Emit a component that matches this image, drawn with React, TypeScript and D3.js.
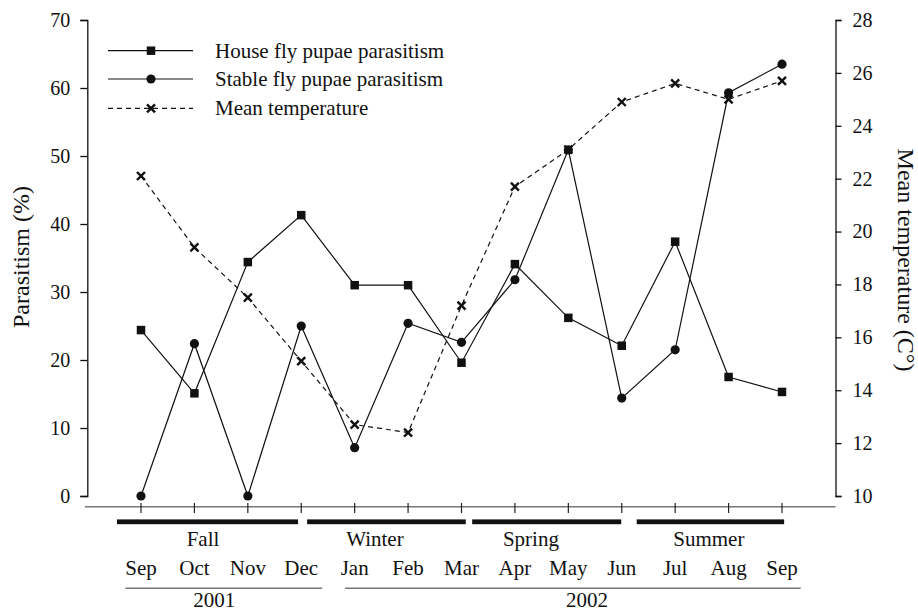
import React, { useEffect, useRef } from "react";
import * as d3 from "d3";

const months = ["Sep", "Oct", "Nov", "Dec", "Jan", "Feb", "Mar", "Apr", "May", "Jun", "Jul", "Aug", "Sep"];
const houseFly = [24.4, 15.1, 34.4, 41.3, 31.0, 31.0, 19.6, 34.1, 26.2, 22.1, 37.4, 17.5, 15.3];
const stableFly = [0, 22.4, 0, 25.0, 7.1, 25.4, 22.6, 31.8, 50.9, 14.4, 21.5, 59.3, 63.5];
const meanTemp = [22.1, 19.4, 17.5, 15.1, 12.7, 12.4, 17.2, 21.7, 23.1, 24.9, 25.6, 25.0, 25.7];
const leftTicks = [0, 10, 20, 30, 40, 50, 60, 70];
const rightTicks = [10, 12, 14, 16, 18, 20, 22, 24, 26, 28];
// season bars: start / end / label position in month-index units
const seasonNames = ["Fall", "Winter", "Spring", "Summer"];
const seasonStart = [-0.45, 3.11, 6.2, 9.28];
const seasonEnd = [2.94, 6.08, 8.99, 12.04];
const seasonLabelAt = [1.16, 4.38, 7.3, 10.63];
const yearNames = ["2001", "2002"];
const yearStart = [-0.29, 3.82];
const yearEnd = [3.39, 12.35];
const yearLabelAt = [1.37, 8.35];
const legendNames = ["House fly pupae parasitism", "Stable fly pupae parasitism", "Mean temperature"];

const FONT = "'Liberation Serif', 'Times New Roman', serif";
const W = 918;
const H = 613;
const LEFT_X = 87.3;
const RIGHT_X = 835.5;
const AXIS_Y = 506.7;

export default function App() {
  const leftRef = useRef<SVGGElement>(null);
  const rightRef = useRef<SVGGElement>(null);

  const x = d3.scalePoint<number>().domain(d3.range(months.length)).range([141, 782]);
  const step = x.step();
  const xf = (v: number) => (x(0) as number) + v * step;
  const yL = d3.scaleLinear().domain([0, 70]).range([496, 20]);
  const yR = d3.scaleLinear().domain([10, 28]).range([496, 20]);

  useEffect(() => {
    if (leftRef.current) {
      const g = d3.select(leftRef.current);
      g.call(d3.axisLeft(yL).tickValues(leftTicks).tickSize(7).tickPadding(10).tickFormat(d3.format("d")) as any);
      g.attr("font-family", FONT).attr("font-size", 20);
      g.selectAll("path,line").attr("stroke", "#111").attr("stroke-width", 1.3);
      g.selectAll("text").attr("fill", "#111");
    }
    if (rightRef.current) {
      const g = d3.select(rightRef.current);
      g.call(d3.axisRight(yR).tickValues(rightTicks).tickSize(6).tickPadding(11).tickFormat(d3.format("d")) as any);
      g.attr("font-family", FONT).attr("font-size", 20);
      g.selectAll("path,line").attr("stroke", "#111").attr("stroke-width", 1.3);
      g.selectAll("text").attr("fill", "#111");
    }
  }, []);

  const lineL = d3
    .line<number>()
    .x((_, i) => x(i) as number)
    .y((d) => yL(d));
  const lineR = d3
    .line<number>()
    .x((_, i) => x(i) as number)
    .y((d) => yR(d));

  const sq = 8.5;
  const cr = 4.6;
  const xs = 4;

  const cross = (cx: number, cy: number, key: any) => (
    <g key={key} stroke="#111" strokeWidth={2.4}>
      <line x1={cx - xs} y1={cy - xs} x2={cx + xs} y2={cy + xs} />
      <line x1={cx - xs} y1={cy + xs} x2={cx + xs} y2={cy - xs} />
    </g>
  );

  const legendY = [50.7, 79, 108.3];

  return (
    <svg width={W} height={H} style={{ position: "absolute", left: 0, top: 0, background: "#fff" }} fontFamily={FONT}>
      <rect width={W} height={H} fill="#fff" />
      <g ref={leftRef} transform={`translate(${LEFT_X},0)`} />
      <g ref={rightRef} transform={`translate(${RIGHT_X},0)`} />

      {/* x axis */}
      <line x1={85} x2={RIGHT_X} y1={AXIS_Y} y2={AXIS_Y} stroke="#777" strokeWidth={1.5} />
      {months.map((_, i) => (
        <line key={"t" + i} x1={x(i)} x2={x(i)} y1={503} y2={513} stroke="#222" strokeWidth={1.2} />
      ))}

      {/* season bars */}
      {seasonNames.map((s, i) => (
        <g key={s}>
          <rect x={xf(seasonStart[i])} y={519.4} width={xf(seasonEnd[i]) - xf(seasonStart[i])} height={4.8} fill="#111" />
          <text x={xf(seasonLabelAt[i])} y={545.7} textAnchor="middle" fontSize={21} fill="#111">
            {s}
          </text>
        </g>
      ))}

      {/* month labels */}
      {months.map((m, i) => (
        <text key={"m" + i} x={x(i)} y={575} textAnchor="middle" fontSize={21} fill="#111">
          {m}
        </text>
      ))}

      {/* years */}
      {yearNames.map((yname, i) => (
        <g key={yname}>
          <line x1={xf(yearStart[i])} x2={xf(yearEnd[i])} y1={588.3} y2={588.3} stroke="#777" strokeWidth={1.5} />
          <text x={xf(yearLabelAt[i])} y={607} textAnchor="middle" fontSize={21} fill="#111">
            {yname}
          </text>
        </g>
      ))}

      {/* axis titles */}
      <text transform={`translate(29,257) rotate(-90)`} textAnchor="middle" fontSize={24} fill="#111">
        Parasitism (%)
      </text>
      <text transform={`translate(898,260) rotate(90)`} textAnchor="middle" fontSize={24} fill="#111">
        Mean temperature (C°)
      </text>

      {/* series lines */}
      <path d={lineR(meanTemp) || ""} fill="none" stroke="#111" strokeWidth={1.2} strokeDasharray="5,4" />
      <path d={lineL(houseFly) || ""} fill="none" stroke="#111" strokeWidth={1.2} />
      <path d={lineL(stableFly) || ""} fill="none" stroke="#111" strokeWidth={1.2} />

      {/* markers */}
      {meanTemp.map((d, i) => cross(x(i) as number, yR(d), "c" + i))}
      {houseFly.map((d, i) => (
        <rect key={"h" + i} x={(x(i) as number) - sq / 2} y={yL(d) - sq / 2} width={sq} height={sq} fill="#111" />
      ))}
      {stableFly.map((d, i) => (
        <circle key={"s" + i} cx={x(i) as number} cy={yL(d)} r={cr} fill="#111" />
      ))}

      {/* legend */}
      {legendNames.map((n, i) => (
        <g key={n}>
          <line
            x1={108}
            x2={193}
            y1={legendY[i]}
            y2={legendY[i]}
            stroke="#111"
            strokeWidth={1.2}
            strokeDasharray={i === 2 ? "5,4" : undefined}
          />
          {i === 0 && <rect x={151 - sq / 2} y={legendY[i] - sq / 2} width={sq} height={sq} fill="#111" />}
          {i === 1 && <circle cx={151} cy={legendY[i]} r={cr} fill="#111" />}
          {i === 2 && cross(151, legendY[i], "lc")}
          <text x={215} y={legendY[i] + 7} fontSize={21} fill="#111">
            {n}
          </text>
        </g>
      ))}
    </svg>
  );
}
